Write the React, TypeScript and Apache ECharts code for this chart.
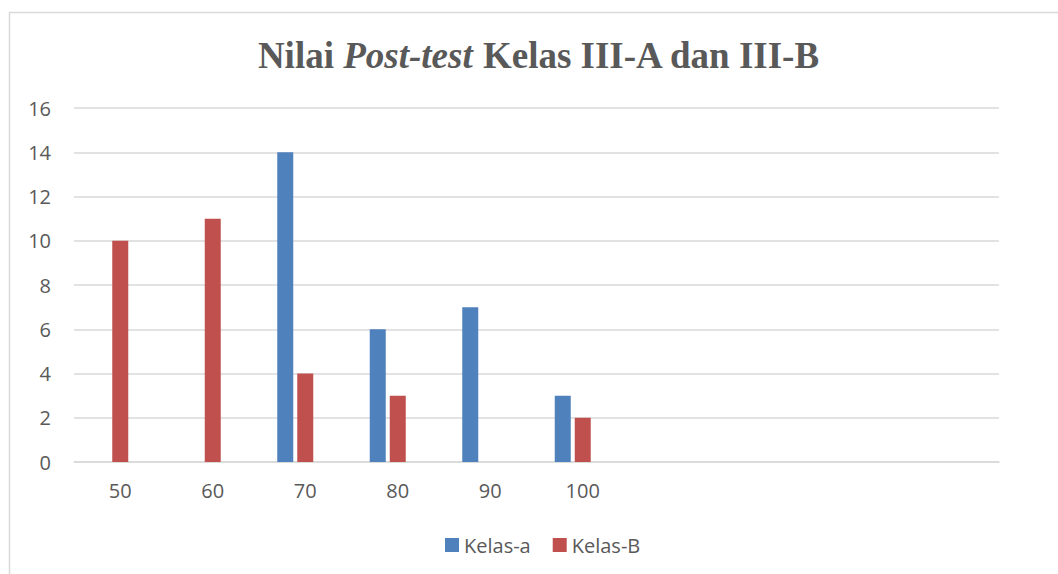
import React, { useEffect, useRef } from "react";
import * as echarts from "echarts";

const categories = ["50", "60", "70", "80", "90", "100", "", "", "", ""];
const kelasA = [null, null, 14, 6, 7, 3, null, null, null, null];
const kelasB = [10, 11, 4, 3, null, 2, null, null, null, null];
const emptySeries = [null, null, null, null, null, null, null, null, null, null];

export default function App() {
  const ref = useRef<HTMLDivElement>(null);
  useEffect(() => {
    if (!ref.current) return;
    const chart = echarts.init(ref.current, undefined, { renderer: "svg" });
    const font = "'Open Sans', sans-serif";
    chart.setOption({
      animation: false,
      backgroundColor: "#ffffff",
      title: {
        text: "{b|Nilai }{i|Post-test}{b| Kelas III-A dan III-B}",
        left: 534,
        top: 32,
        textAlign: "center",
        textStyle: {
          rich: {
            b: { fontFamily: "'Liberation Serif', serif", fontWeight: "bold", fontSize: 37, color: "#595959" },
            i: { fontFamily: "'Liberation Serif', serif", fontWeight: "bold", fontStyle: "italic", fontSize: 37, color: "#595959" },
          },
        },
      },
      graphic: [
        {
          type: "rect",
          shape: { x: 9.5, y: 12.5, width: 1100, height: 600 },
          style: { fill: "none", stroke: "#d9d9d9", lineWidth: 1.5 },
          silent: true,
        },
      ],
      legend: {
        data: ["Kelas-a", "Kelas-B"],
        bottom: 14,
        left: 440,
        itemWidth: 14,
        itemHeight: 14,
        itemGap: 22,
        icon: "rect",
        textStyle: { fontFamily: font, fontSize: 20, color: "#595959" },
      },
      grid: { left: 74, right: 59, top: 108, bottom: 112, containLabel: false },
      xAxis: {
        type: "category",
        data: categories,
        axisLine: { show: true, lineStyle: { color: "#d9d9d9", width: 1.5 } },
        axisTick: { show: false },
        axisLabel: { fontFamily: font, fontSize: 20, color: "#595959", margin: 18 },
      },
      yAxis: {
        type: "value",
        min: 0,
        max: 16,
        interval: 2,
        axisLine: { show: false },
        axisTick: { show: false },
        splitLine: { lineStyle: { color: "#d9d9d9", width: 1.5 } },
        axisLabel: { fontFamily: font, fontSize: 20, color: "#595959", margin: 23 },
      },
      series: [
        { name: "Kelas-a", type: "bar", data: kelasA, barWidth: 16, barGap: "25%", itemStyle: { color: "#4f81bd" } },
        { name: "Kelas-B", type: "bar", data: kelasB, barWidth: 16, barGap: "25%", itemStyle: { color: "#c0504d" } },
        { name: "Series3", type: "bar", data: emptySeries, barWidth: 16, barGap: "25%", itemStyle: { color: "#9bbb59" } },
      ],
    });
    return () => chart.dispose();
  }, []);
  return (
    <div
      ref={ref}
      style={{ position: "fixed", left: 0, top: 0, width: 1058, height: 574 }}
    />
  );
}
